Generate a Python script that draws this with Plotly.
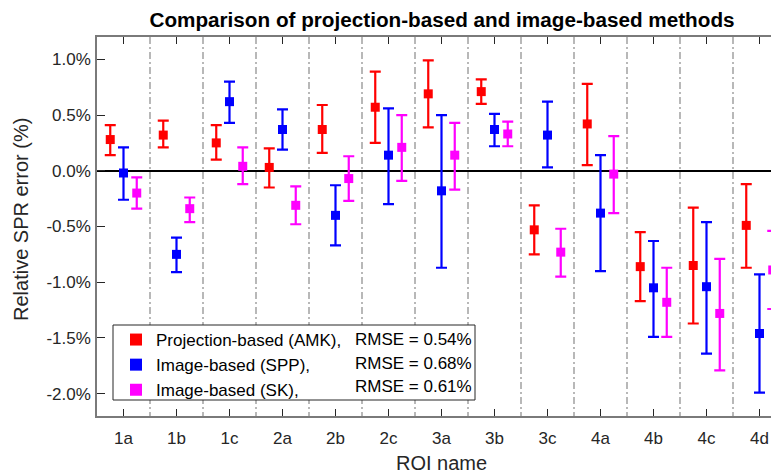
import numpy as np
import plotly.graph_objects as go

rois = ['1a', '1b', '1c', '2a', '2b', '2c', '3a', '3b', '3c', '4a', '4b', '4c', '4d']

amk = [0.28, 0.32, 0.25, 0.03, 0.37, 0.57, 0.69, 0.71, -0.53, 0.42, -0.86, -0.85, -0.49]
amk_hi = [0.41, 0.45, 0.41, 0.20, 0.59, 0.89, 0.99, 0.82, -0.31, 0.78, -0.55, -0.33, -0.12]
amk_lo = [0.14, 0.21, 0.10, -0.15, 0.16, 0.25, 0.39, 0.60, -0.75, 0.05, -1.17, -1.37, -0.87]

spp = [-0.02, -0.75, 0.62, 0.37, -0.40, 0.14, -0.18, 0.37, 0.32, -0.38, -1.05, -1.04, -1.46]
spp_hi = [0.21, -0.60, 0.80, 0.55, -0.13, 0.56, 0.50, 0.51, 0.62, 0.14, -0.63, -0.46, -0.93]
spp_lo = [-0.26, -0.91, 0.43, 0.19, -0.67, -0.30, -0.87, 0.22, 0.03, -0.90, -1.49, -1.64, -1.99]

sk = [-0.20, -0.34, 0.04, -0.31, -0.07, 0.21, 0.14, 0.33, -0.73, -0.03, -1.18, -1.28, -0.89]
sk_hi = [-0.06, -0.24, 0.21, -0.14, 0.13, 0.50, 0.43, 0.44, -0.52, 0.31, -0.87, -0.79, -0.54]
sk_lo = [-0.34, -0.46, -0.12, -0.48, -0.27, -0.09, -0.17, 0.22, -0.95, -0.38, -1.49, -1.79, -1.24]

method_names = ['Projection-based (AMK),', 'Image-based (SPP),', 'Image-based (SK),']
rmse = [0.54, 0.68, 0.61]

ytick_vals = [1.0, 0.5, 0.0, -0.5, -1.0, -1.5, -2.0]
ytick_text = ['1.0%', '0.5%', '0.0%', '-0.5%', '-1.0%', '-1.5%', '-2.0%']

series = [
    (amk, amk_hi, amk_lo, '#ff0000', -0.25),
    (spp, spp_hi, spp_lo, '#0000ff', 0.0),
    (sk, sk_hi, sk_lo, '#ff00ff', 0.25),
]

FONT = 'Liberation Sans, Arial, sans-serif'
pos = np.arange(1, len(rois) + 1)

# figure geometry (the page places the plot div 8px from the top-left corner)
W, H = 790, 465
ML, MR, MT, MB = 89, 12, 29, 57
PW, PH = W - ML - MR, H - MT - MB


def px_x(px):
    return (px - ML) / PW


def px_y(py):
    return (H - MB - py) / PH


fig = go.Figure()
for (vals, hi, lo, col, off), name in zip(series, method_names):
    v = np.array(vals)
    fig.add_trace(go.Scatter(
        x=pos + off, y=v, mode='markers', name=name,
        marker=dict(symbol='square', size=9, color=col),
        error_y=dict(type='data', symmetric=False,
                     array=np.array(hi) - v, arrayminus=v - np.array(lo),
                     color=col, thickness=2.2, width=5.5),
    ))

# legend frame
fig.add_shape(type='rect', xref='paper', yref='paper',
              x0=px_x(105), x1=px_x(467), y0=px_y(392), y1=px_y(317),
              line=dict(color='#262626', width=1), fillcolor='white', layer='above')

row_py = [331, 355, 378]
for r, py in zip(rmse, row_py):
    fig.add_annotation(xref='paper', yref='paper', x=px_x(345), y=px_y(py),
                       xanchor='left', yanchor='middle', showarrow=False,
                       text=f'RMSE = {r:.2f}%', font=dict(family=FONT, size=17, color='#000000'))

# axis titles
fig.add_annotation(xref='paper', yref='paper', x=px_x(13), y=px_y(212),
                   xanchor='center', yanchor='middle', textangle=-90, showarrow=False,
                   text='Relative SPR error (%)', font=dict(family=FONT, size=20, color='#262626'))
fig.add_annotation(xref='paper', yref='paper', x=px_x(433), y=px_y(455),
                   xanchor='center', yanchor='middle', showarrow=False,
                   text='ROI name', font=dict(family=FONT, size=20, color='#262626'))

fig.update_layout(
    width=W, height=H,
    margin=dict(l=ML, r=MR, t=MT, b=MB, autoexpand=False),
    paper_bgcolor='white', plot_bgcolor='white',
    title=dict(text='<b>Comparison of projection-based and image-based methods</b>',
               x=434 / W, xanchor='center', y=1 - 12 / H, yanchor='middle',
               font=dict(family=FONT, size=20.7, color='#000000')),
    showlegend=True,
    legend=dict(x=px_x(108), y=px_y(314), xanchor='left', yanchor='top',
                bgcolor='rgba(0,0,0,0)', borderwidth=0,
                font=dict(family=FONT, size=17, color='#000000'),
                tracegroupgap=0, itemsizing='constant'),
    font=dict(family=FONT, color='#262626'),
)

fig.update_xaxes(
    range=[0.5, 13.5], automargin=False,
    tickvals=list(pos), ticktext=rois,
    ticks='inside', ticklen=7, tickwidth=1, tickcolor='#262626',
    showline=True, linecolor='#7a7a7a', linewidth=1.5, mirror='ticks',
    showgrid=False, zeroline=False,
    tickfont=dict(family=FONT, size=17, color='#262626'),
    ticklabelstandoff=6,
    minor=dict(tickvals=list(pos[:-1] + 0.5), showgrid=True, gridcolor='#b8b8b8',
               gridwidth=1.5, griddash='7px,3px,2px,3px', ticks=''),
)
fig.update_yaxes(
    range=[-2.2, 1.2], automargin=False,
    tickvals=ytick_vals, ticktext=ytick_text,
    ticks='inside', ticklen=8, tickwidth=1, tickcolor='#262626',
    showline=True, linecolor='#7a7a7a', linewidth=1.5, mirror='ticks',
    showgrid=False, zeroline=True, zerolinecolor='#000000', zerolinewidth=1.5,
    tickfont=dict(family=FONT, size=17, color='#262626'),
    ticklabelstandoff=1,
)

fig.write_html('out.html')
